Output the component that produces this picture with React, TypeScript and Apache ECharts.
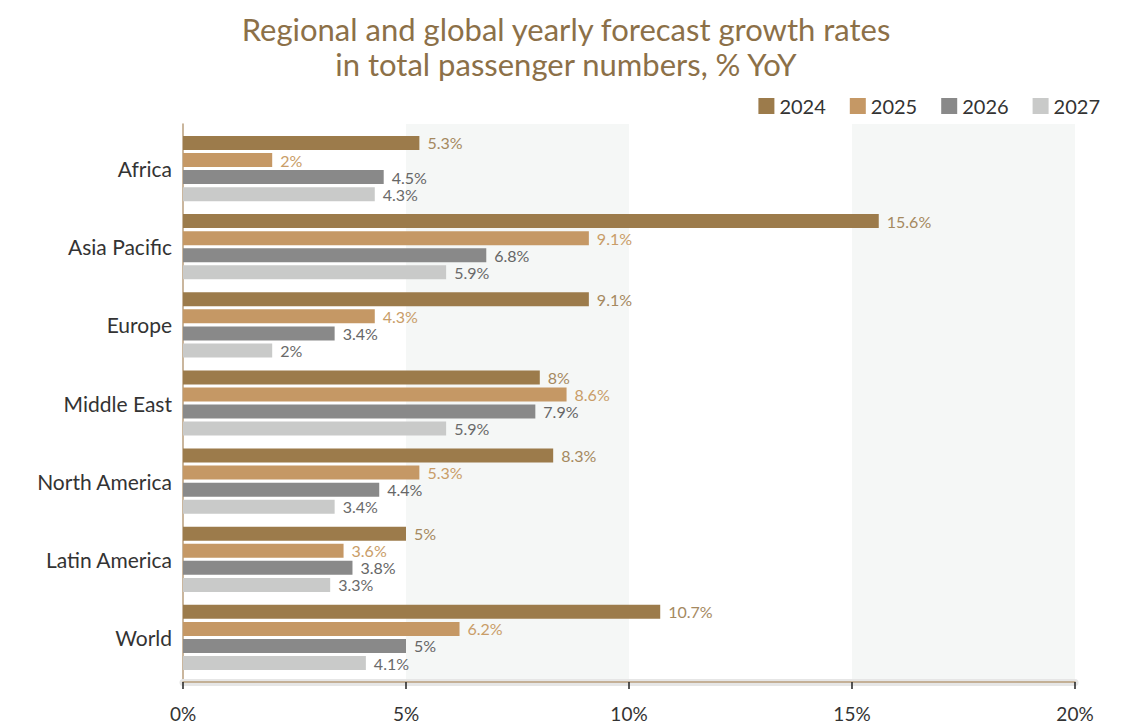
import React, { useEffect, useRef } from "react";
import * as echarts from "echarts";

const categories = ["Africa", "Asia Pacific", "Europe", "Middle East", "North America", "Latin America", "World"];
const years = ["2024", "2025", "2026", "2027"];
const values2024 = [5.3, 15.6, 9.1, 8, 8.3, 5, 10.7];
const values2025 = [2, 9.1, 4.3, 8.6, 5.3, 3.6, 6.2];
const values2026 = [4.5, 6.8, 3.4, 7.9, 4.4, 3.8, 5];
const values2027 = [4.3, 5.9, 2, 5.9, 3.4, 3.3, 4.1];
const xTicks = [0, 5, 10, 15, 20];

const barColors = ["#9c7b4b", "#c59865", "#898989", "#c9cac9"];
const labelColors = ["#a5895f", "#c99d68", "#666666", "#6a6a6a"];
const FONT = "Lato";

export default function App() {
  const ref = useRef<HTMLDivElement>(null);
  useEffect(() => {
    const chart = echarts.init(ref.current!, undefined, { renderer: "svg" });
    const allValues = [values2024, values2025, values2026, values2027];
    const series: any[] = years.map((y, i) => ({
      name: y,
      type: "bar",
      xAxisIndex: 0,
      yAxisIndex: 0,
      data: allValues[i],
      barWidth: 14,
      barGap: "22%",
      itemStyle: { color: barColors[i] },
      label: {
        show: true,
        position: "right",
        distance: 8,
        formatter: "{c}%",
        color: labelColors[i],
        fontSize: 16,
        fontFamily: FONT,
      },
    }));
    chart.setOption({
      animation: false,
      textStyle: { fontFamily: FONT },
      graphic: [
        {
          type: "text",
          x: 566,
          y: 11,
          style: {
            text: "Regional and global yearly forecast growth rates\nin total passenger numbers, % YoY",
            textAlign: "center",
            fill: "#8c7048",
            fontSize: 31,
            lineHeight: 35,
            fontFamily: FONT,
          },
        },
      ],
      legend: {
        data: years,
        right: 34,
        top: 91,
        itemWidth: 16,
        itemHeight: 16,
        itemGap: 24,
        icon: "rect",
        textStyle: { fontSize: 20, color: "#333", fontFamily: FONT },
      },
      grid: [
        { left: 183, right: 64, top: 129.5, bottom: 47.5 },
        { left: 183, right: 64, top: 124, bottom: 42 },
      ],
      xAxis: [
        {
          gridIndex: 0,
          type: "value",
          min: 0,
          max: 20,
          interval: 5,
          show: false,
        },
        {
          gridIndex: 1,
          type: "value",
          min: 0,
          max: 20,
          interval: 5,
          position: "bottom",
          offset: 3.5,
          axisLine: { show: true, lineStyle: { color: "#e6e6e6", width: 7 } },
          axisTick: { show: false },
          axisLabel: { show: false },
          splitLine: { show: false },
        },
        {
          gridIndex: 1,
          type: "value",
          min: 0,
          max: 20,
          interval: 5,
          position: "bottom",
          axisLine: { show: true, lineStyle: { color: "#b89e7c", width: 1.5 } },
          axisTick: { show: true, length: 7, lineStyle: { color: "#222", width: 1.5 } },
          axisLabel: {
            margin: 22,
            fontSize: 19,
            color: "#333",
            fontFamily: FONT,
            formatter: (v: number) => (xTicks.includes(v) ? v + "%" : ""),
          },
          splitLine: { show: false },
          splitArea: { show: true, areaStyle: { color: ["#ffffff", "#f5f7f6"] } },
        },
      ],
      yAxis: [
        {
          gridIndex: 0,
          type: "category",
          inverse: true,
          data: categories,
          axisLine: { show: false },
          axisTick: { show: false },
          axisLabel: { fontSize: 21, color: "#333", margin: 11, fontFamily: FONT },
        },
        {
          gridIndex: 1,
          type: "value",
          min: 0,
          max: 1,
          axisLine: { show: true, lineStyle: { color: "#b89e7c", width: 1.5 } },
          axisTick: { show: false },
          axisLabel: { show: false },
          splitLine: { show: false },
        },
      ],
      series,
    });
    return () => chart.dispose();
  }, []);
  return (
    <div
      ref={ref}
      style={{ position: "absolute", left: 0, top: 0, width: 1139, height: 724, overflow: "hidden" }}
    />
  );
}
